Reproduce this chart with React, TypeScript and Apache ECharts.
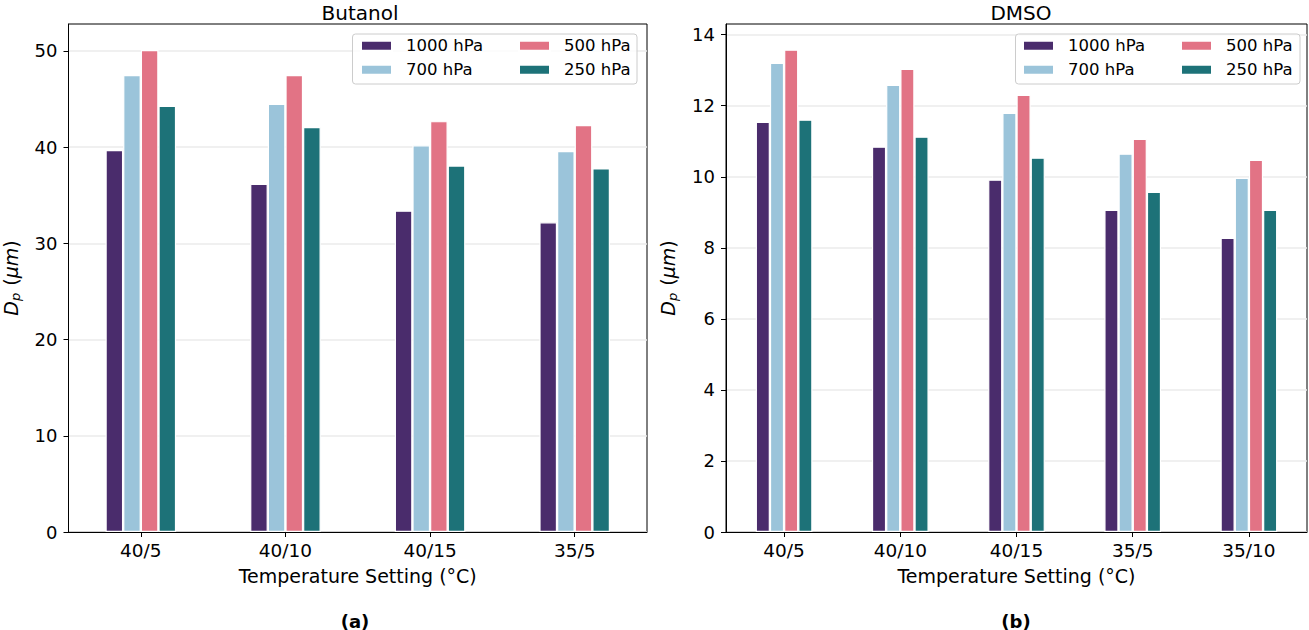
import React, { useEffect, useRef } from "react";
import * as echarts from "echarts";

const seriesNames = ["1000 hPa", "700 hPa", "500 hPa", "250 hPa"];
const colors = ["#4A2C6C", "#9BC4DA", "#E27385", "#1D7278"];

const butanolCategories = ["40/5", "40/10", "40/15", "35/5"];
const butanol1000 = [39.7, 36.2, 33.4, 32.2];
const butanol700 = [47.5, 44.5, 40.2, 39.6];
const butanol500 = [50.1, 47.5, 42.7, 42.3];
const butanol250 = [44.3, 42.1, 38.1, 37.8];

const dmsoCategories = ["40/5", "40/10", "40/15", "35/5", "35/10"];
const dmso1000 = [11.55, 10.85, 9.92, 9.07, 8.28];
const dmso700 = [13.21, 12.59, 11.8, 10.65, 9.97];
const dmso500 = [13.58, 13.04, 12.31, 11.07, 10.48];
const dmso250 = [11.61, 11.13, 10.54, 9.58, 9.07];

const butanolTicks = [0, 10, 20, 30, 40, 50];
const dmsoTicks = [0, 2, 4, 6, 8, 10, 12, 14];

const FONT = "DejaVu Sans";

export default function App() {
  const ref = useRef<HTMLDivElement>(null);

  useEffect(() => {
    if (!ref.current) return;
    const chart = echarts.init(ref.current, undefined, { renderer: "svg" });

    const butanolData = [butanol1000, butanol700, butanol500, butanol250];
    const dmsoData = [dmso1000, dmso700, dmso500, dmso250];

    const yName = "{i|D}{s|p}{n| (}{i|μm}{n|)}";
    const yNameStyle = {
      color: "#000",
      fontFamily: FONT,
      fontSize: 19,
      rich: {
        i: { fontFamily: FONT, fontStyle: "italic", fontSize: 19, color: "#000" },
        s: { fontFamily: FONT, fontStyle: "italic", fontSize: 13, color: "#000", padding: [9, 1, 0, 0] },
        n: { fontFamily: FONT, fontSize: 19, color: "#000" },
      },
    };

    const makeX = (gridIndex: number, data: string[]) => ({
      type: "category",
      gridIndex,
      data,
      boundaryGap: true,
      name: "Temperature Setting (°C)",
      nameLocation: "middle",
      nameGap: 34,
      nameTextStyle: { color: "#000", fontFamily: FONT, fontSize: 19 },
      axisLine: { show: true, lineStyle: { color: "#000", width: 1 } },
      axisTick: { show: true, alignWithLabel: true, length: 5, lineStyle: { color: "#000" } },
      axisLabel: { color: "#000", fontFamily: FONT, fontSize: 18.5, margin: 9 },
      splitLine: { show: false },
    });

    const makeY = (gridIndex: number, max: number, interval: number, ticks: number[]) => ({
      type: "value",
      gridIndex,
      min: 0,
      max,
      interval,
      name: yName,
      nameLocation: "middle",
      nameGap: 47,
      nameTextStyle: yNameStyle,
      axisLine: { show: true, lineStyle: { color: "#000", width: 1 } },
      axisTick: { show: true, length: 5, lineStyle: { color: "#000" }, customValues: ticks },
      axisLabel: { color: "#000", fontFamily: FONT, fontSize: 18, margin: 11, customValues: ticks },
      splitLine: { show: true, lineStyle: { color: "#EBEBEB", width: 1.5 } },
    });

    const series: any[] = [];
    [butanolData, dmsoData].forEach((group, gi) => {
      group.forEach((vals, si) => {
        series.push({
          type: "bar",
          name: seriesNames[si],
          xAxisIndex: gi,
          yAxisIndex: gi,
          data: vals,
          barWidth: "12.2%",
          barGap: "0%",
          itemStyle: { color: colors[si], borderColor: "#fff", borderWidth: 1.2 },
          emphasis: { disabled: true },
        });
      });
    });

    const legendBase = {
      orient: "vertical",
      itemWidth: 31,
      itemHeight: 10,
      itemGap: 6,
      padding: 0,
      icon: "rect",
      selectedMode: false,
      z: 10,
      textStyle: { color: "#000", fontFamily: FONT, fontSize: 16.5, lineHeight: 18, padding: [0, 0, 0, 9] },
    };

    const option: any = {
      animation: false,
      backgroundColor: "#fff",
      title: [
        { text: "Butanol", left: 355, top: -2, textAlign: "center", textStyle: { fontFamily: FONT, fontSize: 20, fontWeight: "normal", color: "#000" } },
        { text: "DMSO", left: 1016, top: -2, textAlign: "center", textStyle: { fontFamily: FONT, fontSize: 20, fontWeight: "normal", color: "#000" } },
      ],
      grid: [
        { left: 65, right: 662, top: 24, bottom: 98, show: true, borderColor: "#000", borderWidth: 1, backgroundColor: "transparent" },
        { left: 726, right: 2, top: 24, bottom: 98, show: true, borderColor: "#000", borderWidth: 1, backgroundColor: "transparent" },
      ],
      xAxis: [makeX(0, butanolCategories), makeX(1, dmsoCategories)],
      yAxis: [makeY(0, 52.8, 10, butanolTicks), makeY(1, 14.3, 2, dmsoTicks)],
      legend: [
        { ...legendBase, data: [seriesNames[0], seriesNames[1]], left: 360, top: 36.7 },
        { ...legendBase, data: [seriesNames[2], seriesNames[3]], left: 518, top: 36.7 },
        { ...legendBase, data: [seriesNames[0], seriesNames[1]], left: 1022, top: 36.7 },
        { ...legendBase, data: [seriesNames[2], seriesNames[3]], left: 1180, top: 36.7 },
      ],
      graphic: [
        { type: "rect", z: 3, shape: { x: 352.5, y: 34, width: 284.5, height: 50, r: 3 }, style: { fill: "rgba(255,255,255,0.8)", stroke: "#CCCCCC", lineWidth: 1 } },
        { type: "rect", z: 3, shape: { x: 1015.5, y: 34, width: 284.5, height: 50, r: 3 }, style: { fill: "rgba(255,255,255,0.8)", stroke: "#CCCCCC", lineWidth: 1 } },
        { type: "text", z: 6, x: 355, y: 621, style: { text: "(a)", fontFamily: FONT, fontSize: 18, fontWeight: "bold", fill: "#000", textAlign: "center", textVerticalAlign: "middle" } },
        { type: "text", z: 6, x: 1016, y: 621, style: { text: "(b)", fontFamily: FONT, fontSize: 18, fontWeight: "bold", fill: "#000", textAlign: "center", textVerticalAlign: "middle" } },
      ],
      series,
    };

    chart.setOption(option);
    return () => chart.dispose();
  }, []);

  return <div ref={ref} style={{ width: 1309, height: 630, position: "absolute", left: 0, top: 0 }} />;
}
